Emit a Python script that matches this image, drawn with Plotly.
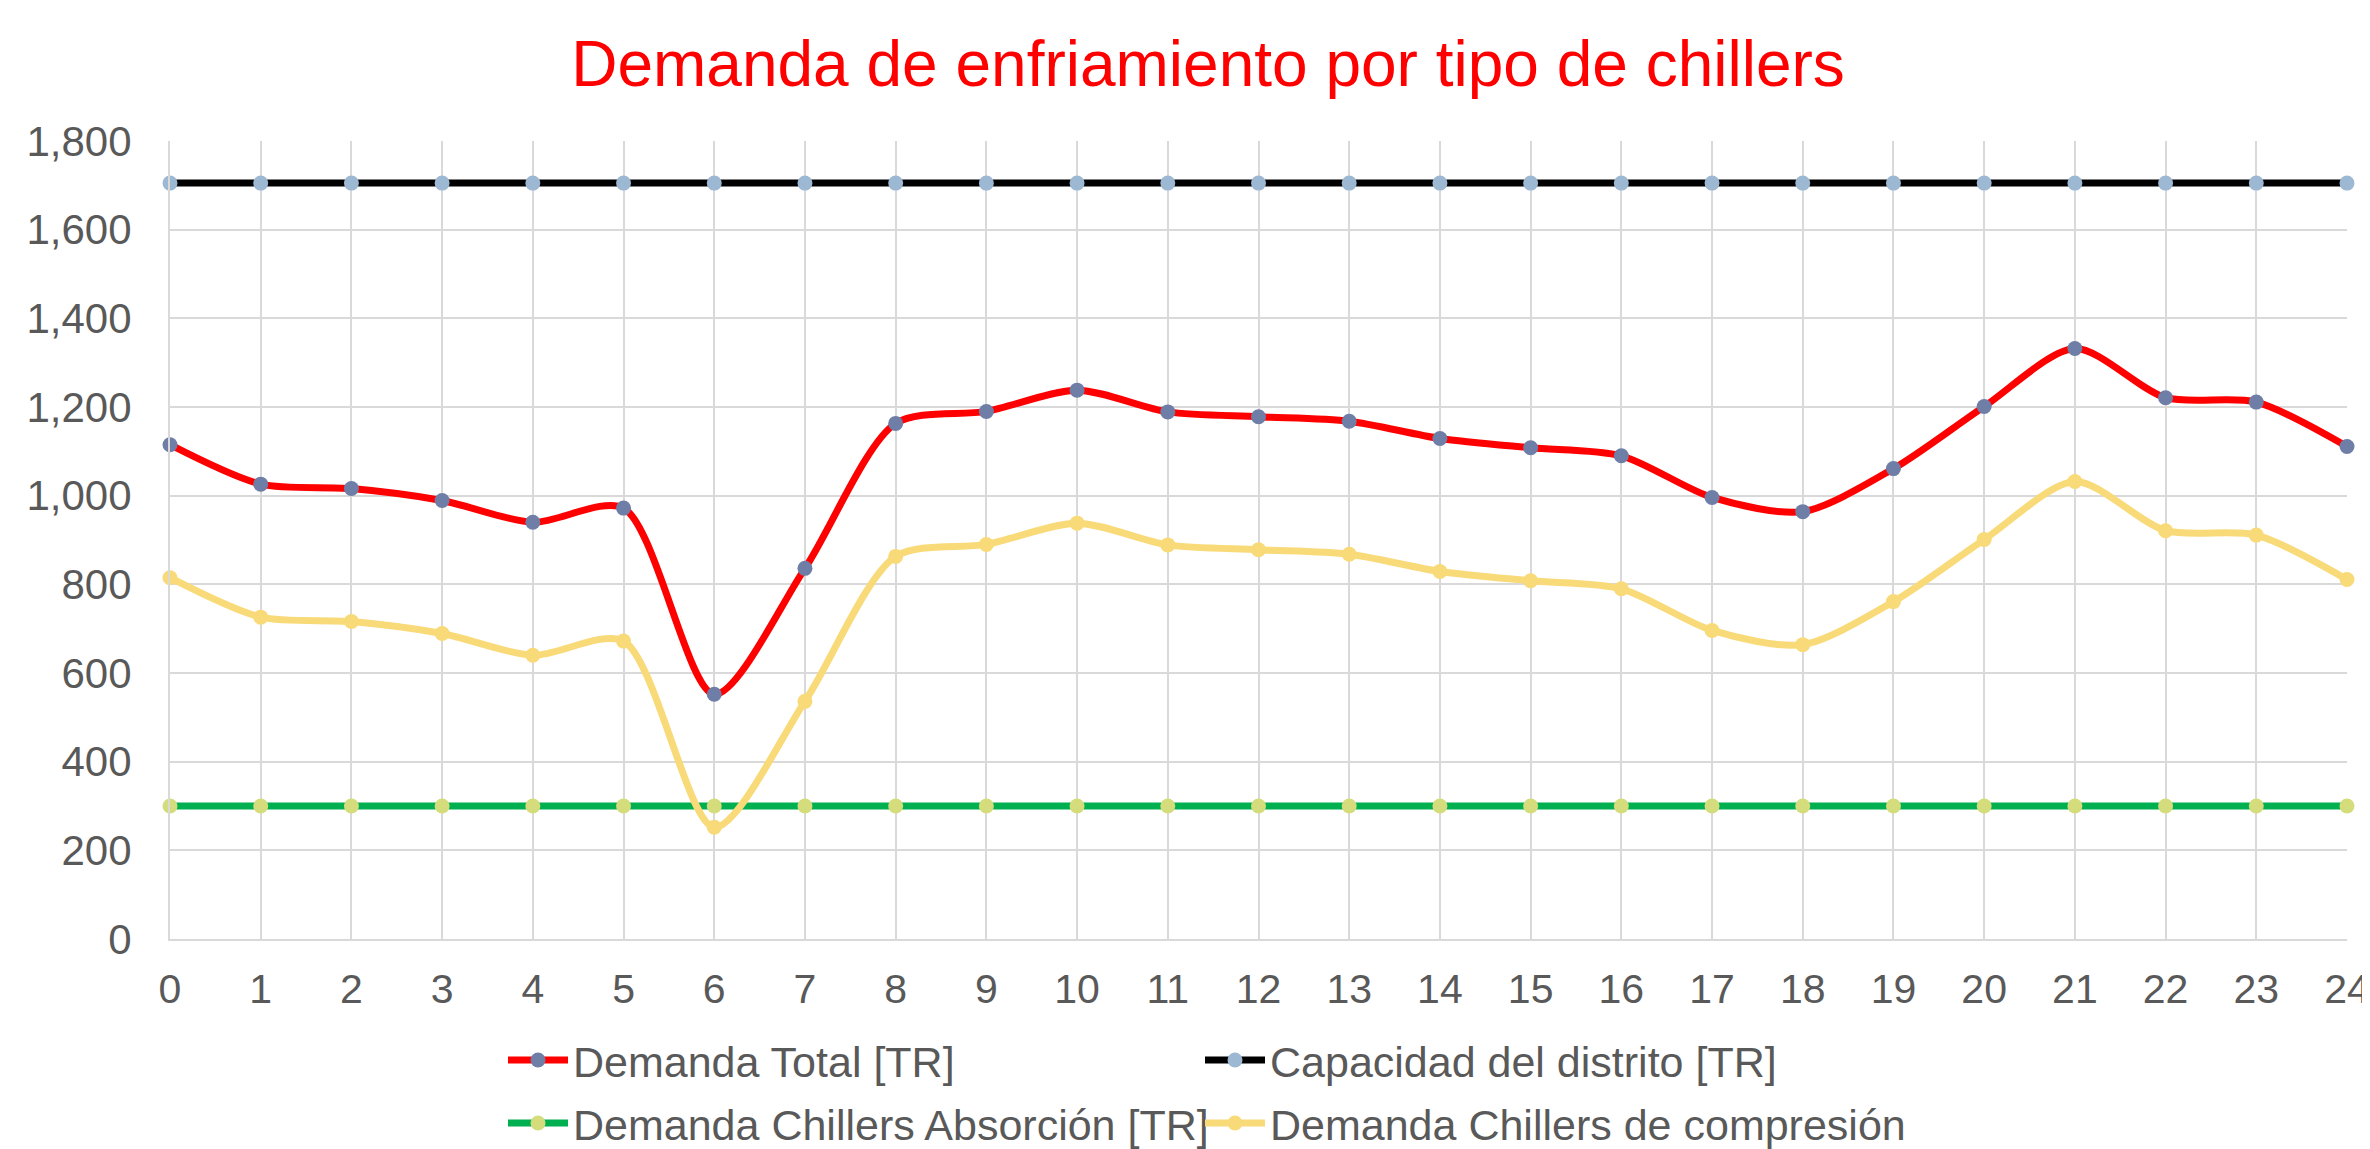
import plotly.graph_objects as go

hours = list(range(25))
demanda_total = [1115, 1026, 1016, 989, 940, 972, 552, 836, 1163, 1190, 1238, 1189, 1178, 1168,
                 1129, 1108, 1090, 996, 964, 1061, 1201, 1332, 1221, 1211, 1111]
capacidad = [1705] * 25
absorcion = [300] * 25
compresion = [815, 726, 716, 689, 640, 672, 252, 536, 863, 890, 938, 889, 878, 868,
              829, 808, 790, 696, 664, 761, 901, 1032, 921, 911, 811]

FONT = "Liberation Sans, Arial, sans-serif"
GRID = "#D9D9D9"
TXT = "#595959"

series = [
    ("Demanda Total [TR]", demanda_total, "#FF0000", "#6F7EA6", "legend"),
    ("Capacidad del distrito [TR]", capacidad, "#000000", "#9DB8D2", "legend2"),
    ("Demanda Chillers Absorción [TR]", absorcion, "#00B050", "#D5DC7C", "legend3"),
    ("Demanda Chillers de compresión", compresion, "#F9DA78", "#F9DA78", "legend4"),
]

fig = go.Figure()
for name, vals, lc, mc, lg in series:
    fig.add_trace(go.Scatter(
        x=hours, y=vals, name=name, mode="lines+markers",
        line=dict(color=lc, width=7, shape="spline", smoothing=0.8),
        marker=dict(color=mc, size=15),
        cliponaxis=False, legend=lg,
    ))

# page body adds an 8px offset; figure is sized/positioned to compensate
W, H = 2362, 1141
L, R, T, B = 162, 23, 133, 210
PW, PH = W - L - R, H - T - B

leg_common = dict(orientation="h", font=dict(family=FONT, size=43, color=TXT),
                  xanchor="left", yanchor="middle",
                  bgcolor="rgba(0,0,0,0)", itemwidth=60)
col1, col2 = 495, 1192
row1, row2 = 1052, 1115

fig.update_layout(
    width=W, height=H,
    margin=dict(l=L, r=R, t=T, b=B, autoexpand=False),
    paper_bgcolor="white", plot_bgcolor="white",
    font=dict(family=FONT, color=TXT),
    title=dict(text="Demanda de enfriamiento por tipo de chillers",
               font=dict(family=FONT, size=64, color="#FF0000"),
               x=1200 / W, xanchor="center", xref="container",
               y=1 - 56 / H, yanchor="middle", yref="container"),
    legend=dict(x=(col1 - L) / PW, y=-(row1 - (H - B)) / PH, **leg_common),
    legend2=dict(x=(col2 - L) / PW, y=-(row1 - (H - B)) / PH, **leg_common),
    legend3=dict(x=(col1 - L) / PW, y=-(row2 - (H - B)) / PH, **leg_common),
    legend4=dict(x=(col2 - L) / PW, y=-(row2 - (H - B)) / PH, **leg_common),
    showlegend=True,
)
fig.update_xaxes(range=[0, 24], dtick=1, tick0=0, showgrid=True, gridcolor=GRID, gridwidth=2,
                 showline=True, linecolor=GRID, linewidth=2, zeroline=False, automargin=False,
                 ticklabeloverflow="allow",
                 tickfont=dict(family=FONT, size=41, color=TXT), ticks="", ticklabelstandoff=13)
fig.update_yaxes(range=[0, 1800], dtick=200, tick0=0, showgrid=True, gridcolor=GRID, gridwidth=2,
                 showline=True, linecolor=GRID, linewidth=2, zeroline=False, tickformat=",",
                 automargin=False, ticklabeloverflow="allow",
                 tickfont=dict(family=FONT, size=42, color=TXT), ticks="", ticklabelstandoff=28)

fig.write_html("out.html")
